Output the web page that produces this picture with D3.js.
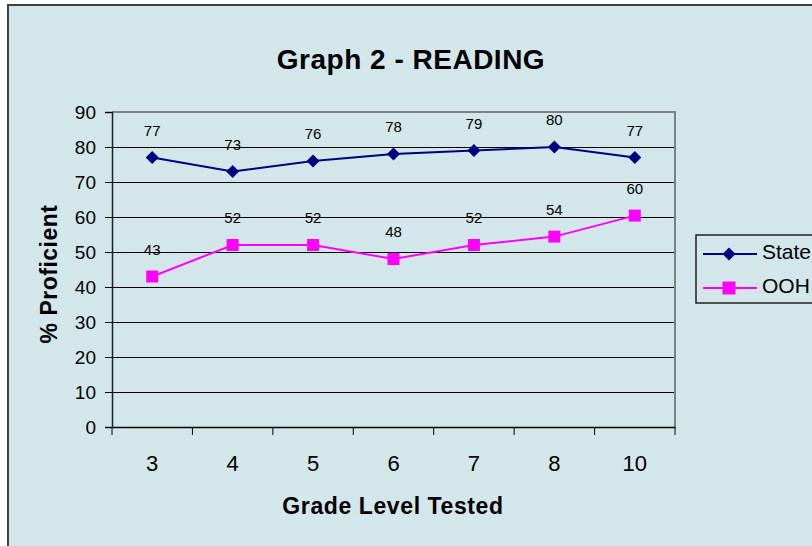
<!DOCTYPE html>
<html>
<head>
<meta charset="utf-8">
<script src="https://cdn.jsdelivr.net/npm/d3@7"></script>
<style>
  body { margin: 0; background: #fff; }
  text { font-family: Arial, "Liberation Sans", sans-serif; }
</style>
</head>
<body>
<div class="chart"></div>
<script>
const grades = ["3", "4", "5", "6", "7", "8", "10"];
const stateVals = [77, 73, 76, 78, 79, 80, 77];
const oohVals = [43, 52, 52, 48, 52, 54.4, 60.4];
const yTicks = [0, 10, 20, 30, 40, 50, 60, 70, 80, 90];
const seriesNames = ["State", "OOH"];

document.addEventListener("DOMContentLoaded", runD3)
function runD3(){
  var width = 812,
      height = 546;

  const svg = d3.select(".chart").append("svg")
    .attr("width", width)
    .attr("height", height)

  // frame
  svg.append("rect")
    .attr("x", 8).attr("y", 5)
    .attr("width", 830).attr("height", 560)
    .attr("fill", "#d3e7ea")
    .attr("stroke", "#404040")
    .attr("stroke-width", 2)

  var left = 112, top = 112, right = 675, bottom = 427

  var x = d3.scaleBand().domain(grades).range([left, right]),
      y = d3.scaleLinear().domain([0, 90]).range([bottom, top])

  // gridlines
  svg.append("g").selectAll("line")
    .data(yTicks.filter(d => d > 0 && d < 90))
    .enter().append("line")
    .attr("x1", left).attr("x2", right)
    .attr("y1", d => y(d)).attr("y2", d => y(d))
    .attr("stroke", "#000")
    .attr("stroke-width", 1)
    .attr("shape-rendering", "crispEdges")

  // plot border (top/right)
  svg.append("path")
    .attr("d", `M${left},${top}H${right}V${bottom}`)
    .attr("fill", "none")
    .attr("stroke", "#808080")
    .attr("stroke-width", 2)

  // y axis
  const yAxis = svg.append("g")
    .attr("transform", `translate(${left},0)`)
    .call(d3.axisLeft(y).tickValues(yTicks).tickSize(7).tickPadding(9))
  yAxis.select(".domain").attr("stroke", "#202020").attr("stroke-width", 1.5)
  yAxis.selectAll(".tick line").attr("stroke", "#000")
  yAxis.selectAll("text").attr("font-size", 19).attr("fill", "#000")
    .attr("font-family", "Arial, 'Liberation Sans', sans-serif")

  // x axis
  const xAxis = svg.append("g")
    .attr("transform", `translate(0,${bottom})`)
    .call(d3.axisBottom(x).tickSize(0).tickPadding(28))
  xAxis.select(".domain").attr("stroke", "#000").attr("stroke-width", 1.5)
  xAxis.selectAll("text").attr("font-size", 22).attr("fill", "#000")
    .attr("font-family", "Arial, 'Liberation Sans', sans-serif")
  // boundary ticks between categories
  xAxis.selectAll(".bound")
    .data(d3.range(grades.length + 1))
    .enter().append("line")
    .attr("x1", i => left + i * x.bandwidth())
    .attr("x2", i => left + i * x.bandwidth())
    .attr("y1", 0).attr("y2", 8)
    .attr("stroke", "#000")

  const cx = d => x(d) + x.bandwidth() / 2
  const line = d3.line().x((d, i) => cx(grades[i])).y(d => y(d))

  // State
  svg.append("path").datum(stateVals)
    .attr("d", line).attr("fill", "none")
    .attr("stroke", "#000080").attr("stroke-width", 2)
  svg.append("g").selectAll("path")
    .data(stateVals).enter().append("path")
    .attr("d", "M0,-6.5L6.5,0L0,6.5L-6.5,0Z")
    .attr("transform", (d, i) => `translate(${cx(grades[i])},${y(d)})`)
    .attr("fill", "#000080")

  // OOH
  svg.append("path").datum(oohVals)
    .attr("d", line).attr("fill", "none")
    .attr("stroke", "#ff00ff").attr("stroke-width", 2)
  svg.append("g").selectAll("rect")
    .data(oohVals).enter().append("rect")
    .attr("x", (d, i) => cx(grades[i]) - 6)
    .attr("y", d => y(d) - 6)
    .attr("width", 12).attr("height", 12)
    .attr("fill", "#ff00ff")

  // data labels
  const fmt = d3.format(".0f")
  ;[stateVals, oohVals].forEach(vals => {
    svg.append("g").selectAll("text")
      .data(vals).enter().append("text")
      .attr("x", (d, i) => cx(grades[i]))
      .attr("y", d => y(d) - 27)
      .attr("dy", "0.35em")
      .attr("text-anchor", "middle")
      .attr("font-size", 15)
      .text(d => fmt(d))
  })

  // titles
  svg.append("text")
    .attr("x", 411).attr("y", 69)
    .attr("text-anchor", "middle")
    .attr("font-size", 28).attr("font-weight", "bold")
    .attr("letter-spacing", 0.5)
    .text("Graph 2 - READING")

  svg.append("text")
    .attr("x", 393).attr("y", 514)
    .attr("text-anchor", "middle")
    .attr("font-size", 23).attr("font-weight", "bold")
    .attr("letter-spacing", 0.6)
    .text("Grade Level Tested")

  svg.append("text")
    .attr("transform", "translate(57,274) rotate(-90)")
    .attr("text-anchor", "middle")
    .attr("font-size", 23).attr("font-weight", "bold")
    .attr("letter-spacing", 0.5)
    .text("% Proficient")

  // legend
  const lg = svg.append("g")
  lg.append("rect")
    .attr("x", 696).attr("y", 235)
    .attr("width", 140).attr("height", 68)
    .attr("fill", "none").attr("stroke", "#202020").attr("stroke-width", 1.5)
  seriesNames.forEach((name, i) => {
    const ly = 254 + i * 34
    const col = i === 0 ? "#000080" : "#ff00ff"
    lg.append("line")
      .attr("x1", 703).attr("x2", 757).attr("y1", ly).attr("y2", ly)
      .attr("stroke", col).attr("stroke-width", 2)
    if (i === 0) {
      lg.append("path").attr("d", "M0,-6.5L6.5,0L0,6.5L-6.5,0Z")
        .attr("transform", `translate(729,${ly})`).attr("fill", col)
    } else {
      lg.append("rect").attr("x", 722.5).attr("y", ly - 6.5)
        .attr("width", 13).attr("height", 13).attr("fill", col)
    }
    lg.append("text")
      .attr("x", 762).attr("y", ly - 2).attr("dy", "0.35em")
      .attr("font-size", 21)
      .text(name)
  })
}
</script>
</body>
</html>
